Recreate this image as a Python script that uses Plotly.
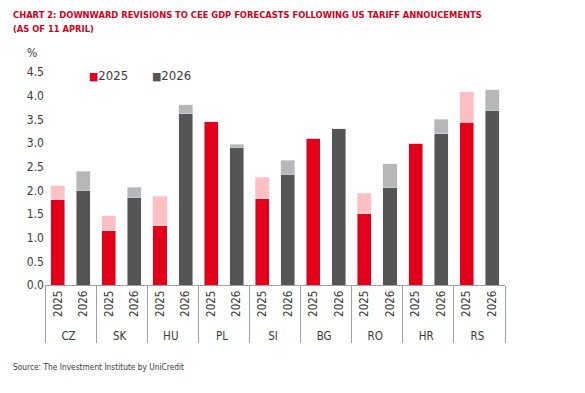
import plotly.graph_objects as go

countries = ["CZ", "SK", "HU", "PL", "SI", "BG", "RO", "HR", "RS"]
years = ["2025", "2026"]
f25_now = [1.80, 1.15, 1.25, 3.45, 1.82, 3.10, 1.51, 3.00, 3.44]
f25_prev = [2.10, 1.46, 1.87, 3.45, 2.28, 3.10, 1.94, 3.00, 4.08]
f26_now = [2.00, 1.85, 3.62, 2.91, 2.34, 3.30, 2.06, 3.20, 3.69]
f26_prev = [2.40, 2.06, 3.81, 2.97, 2.64, 3.30, 2.56, 3.50, 4.12]
y_ticks = [0.0, 0.5, 1.0, 1.5, 2.0, 2.5, 3.0, 3.5, 4.0, 4.5]

RED = "#E2001A"
PINK = "#FFC0C4"
DARK = "#555555"
LIGHT = "#B7B7B7"
FONT = "DejaVu Sans Condensed, sans-serif"

# page body has an 8px margin: work in screen pixels, convert to figure pixels
OFF = 8
W, H = 585, 393
L, R, T, B = 45 - OFF, W - (505 - OFF), 72 - OFF, H - (285 - OFF)
PW, PH = W - L - R, H - T - B


def px_x(x):
    return (x - OFF - L) / PW


def px_y(y):
    return (H - B - (y - OFF)) / PH


x25 = [countries, [years[0]] * len(countries)]
x26 = [countries, [years[1]] * len(countries)]

fig = go.Figure()
fig.add_trace(go.Bar(x=x25, y=f25_now, name="2025", marker_color=RED, showlegend=False))
fig.add_trace(go.Bar(x=x25, y=[p - n for p, n in zip(f25_prev, f25_now)], name="2025 prev",
                     marker_color=PINK, showlegend=False))
fig.add_trace(go.Bar(x=x26, y=f26_now, name="2026", marker_color=DARK, showlegend=False))
fig.add_trace(go.Bar(x=x26, y=[p - n for p, n in zip(f26_prev, f26_now)], name="2026 prev",
                     marker_color=LIGHT, showlegend=False))

fig.update_layout(
    width=W, height=H,
    barmode="stack", bargap=0.45,
    margin=dict(l=L, r=R, t=T, b=B, autoexpand=False),
    plot_bgcolor="white", paper_bgcolor="white",
    font=dict(family=FONT, size=12, color="#3a3a3a"),
    showlegend=False,
    xaxis=dict(type="multicategory", tickangle=-90, showline=True, linecolor="#A0A0A0",
               showdividers=True, dividercolor="#A0A0A0", dividerwidth=1,
               tickfont=dict(size=11.5), ticks="", automargin=False),
    yaxis=dict(range=[0, 4.5], tickvals=y_ticks, tickformat=".1f", showgrid=False,
               zeroline=False, showline=False, tickfont=dict(size=12), ticks="",
               automargin=False),
    annotations=[
        dict(text="<b>CHART 2: DOWNWARD REVISIONS TO CEE GDP FORECASTS FOLLOWING US TARIFF ANNOUCEMENTS</b>",
             x=px_x(11), y=px_y(14), xref="paper", yref="paper", xanchor="left", yanchor="middle",
             align="left", showarrow=False,
             font=dict(family=FONT, size=9.3, color="#D0021B")),
        dict(text="<b>(AS OF 11 APRIL)</b>",
             x=px_x(11), y=px_y(29), xref="paper", yref="paper", xanchor="left", yanchor="middle",
             align="left", showarrow=False,
             font=dict(family=FONT, size=9.3, color="#D0021B")),
        dict(text="%", x=px_x(25), y=px_y(53), xref="paper", yref="paper",
             xanchor="left", yanchor="middle", showarrow=False, font=dict(size=12)),
        dict(text=f"<span style='color:{RED};font-size:11px'>■</span>{years[0]}", x=px_x(87), y=px_y(75),
             xref="paper", yref="paper", xanchor="left", yanchor="middle", showarrow=False,
             font=dict(size=13)),
        dict(text=f"<span style='color:{DARK};font-size:11px'>■</span>{years[1]}", x=px_x(150), y=px_y(75),
             xref="paper", yref="paper", xanchor="left", yanchor="middle", showarrow=False,
             font=dict(size=13)),
        dict(text="Source: The Investment Institute by UniCredit", x=px_x(11),
             y=px_y(367), xref="paper", yref="paper", xanchor="left", yanchor="middle",
             showarrow=False, font=dict(size=8.3)),
    ],
)

fig.write_html("out.html")
